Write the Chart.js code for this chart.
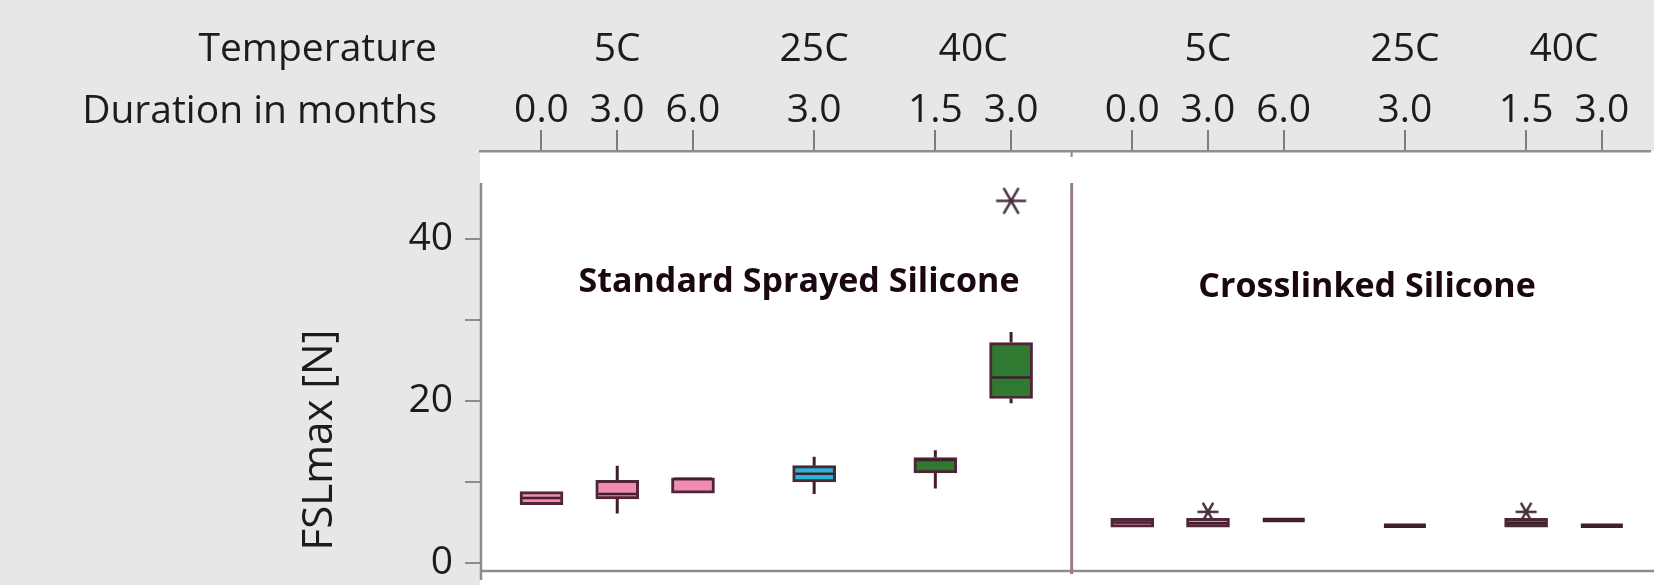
<!DOCTYPE html>
<html lang="en">
<head>
<meta charset="UTF-8">
<title>FSLmax by temperature and storage duration</title>
<script src="https://cdn.jsdelivr.net/npm/chart.js"></script>
<style>
  body { margin: 0; background: #e6e7e9; }
  #wrap { width: 1654px; height: 585px; }
</style>
</head>
<body>
<div id="wrap"><canvas id="chart"></canvas></div>
<script>
// two coatings, each split by storage temperature and duration
var panels = ['Standard Sprayed Silicone', 'Crosslinked Silicone'];
var temperatures = ['5C', '5C', '5C', '25C', '40C', '40C'];
var durations = ['0.0', '3.0', '6.0', '3.0', '1.5', '3.0'];
var yTicks = [0, 10, 20, 30, 40];

// box stats: first six = standard sprayed, last six = crosslinked
var boxMin    = [7.2, 6.1, 8.6, 8.5, 9.2, 19.7,   4.4, 4.4, 5.3, 4.6, 4.4, 4.6];
var boxQ1     = [7.2, 7.9, 8.6, 10.0, 11.1, 20.3, 4.4, 4.4, 5.3, 4.6, 4.4, 4.6];
var boxMedian = [8.0, 8.5, 10.4, 11.0, 12.7, 22.9, 5.0, 4.9, 5.3, 4.6, 4.9, 4.6];
var boxQ3     = [8.8, 10.2, 10.5, 12.0, 13.0, 27.2, 5.5, 5.5, 5.3, 4.6, 5.5, 4.6];
var boxMax    = [8.8, 12.0, 10.5, 13.1, 13.9, 28.5, 5.5, 5.5, 5.3, 4.6, 5.5, 4.6];

// outliers (index of box, value)
var outlierBox = [5, 7, 10];
var outlierValue = [44.7, 6.3, 6.3];

var FONT = '"Open Sans", "DejaVu Sans", sans-serif';
var INK = '#1c1c1c';
var tempColor = { '5C': '#f28cb3', '25C': '#24b6d6', '40C': '#2f7a30' };
var tempGap = { '5C': 0, '25C': 0.6, '40C': 1.2 };

// slot positions on the x scale (groups a little apart, panels further apart)
var slotPos = [], slotTemp = [], slotDur = [], slotPanel = [];
panels.forEach(function(p, pi) {
  temperatures.forEach(function(t, i) {
    slotPos.push(pi * 7.8 + i + tempGap[t]);
    slotTemp.push(t);
    slotDur.push(durations[i]);
    slotPanel.push(pi);
  });
});

function asterisk(size) {
  var c = document.createElement('canvas');
  c.width = c.height = size;
  var g = c.getContext('2d');
  var m = size / 2, r = size / 2 - 1.5, a = Math.PI / 3;
  g.strokeStyle = '#4b2f3e';
  g.lineWidth = 2.5;
  g.beginPath();
  g.moveTo(m - r, m); g.lineTo(m + r, m);
  [a, Math.PI - a].forEach(function(k) {
    g.moveTo(m + r * Math.cos(k), m - r * Math.sin(k));
    g.lineTo(m - r * Math.cos(k), m + r * Math.sin(k));
  });
  g.stroke();
  return c;
}

var boxPlugin = {
  id: 'boxPlugin',
  beforeDraw: function(chart) {
    var ctx = chart.ctx, a = chart.chartArea;
    ctx.save();
    ctx.fillStyle = '#e6e7e9';
    ctx.fillRect(0, 0, chart.width, chart.height);
    ctx.fillStyle = '#ffffff';
    ctx.fillRect(a.left, a.top, chart.width - a.left, chart.height - a.top);
    ctx.restore();
  },
  afterDatasetsDraw: function(chart) {
    var ctx = chart.ctx, x = chart.scales.x, y = chart.scales.y;
    var half = 21;
    ctx.save();
    ctx.strokeStyle = '#3f1f2e';
    slotPos.forEach(function(v, i) {
      var px = x.getPixelForValue(v);
      ctx.lineWidth = 3;
      ctx.beginPath();
      if (boxMax[i] > boxQ3[i]) {
        ctx.moveTo(px, y.getPixelForValue(boxQ3[i]));
        ctx.lineTo(px, y.getPixelForValue(boxMax[i]));
      }
      if (boxMin[i] < boxQ1[i]) {
        ctx.moveTo(px, y.getPixelForValue(boxQ1[i]));
        ctx.lineTo(px, y.getPixelForValue(boxMin[i]));
      }
      ctx.stroke();
      var flat = boxQ1[i] === boxQ3[i];
      ctx.lineWidth = flat ? 4.5 : 2.5;
      var my = y.getPixelForValue(boxMedian[i]);
      ctx.beginPath();
      ctx.moveTo(px - half + (flat ? 0 : 2), my);
      ctx.lineTo(px + half - (flat ? 0 : 2), my);
      ctx.stroke();
    });
    ctx.restore();
  },
  afterDraw: function(chart) {
    var ctx = chart.ctx, a = chart.chartArea, x = chart.scales.x, y = chart.scales.y;
    var frameTop = a.top + 32;
    ctx.save();
    ctx.strokeStyle = '#8d8d8d';
    ctx.lineWidth = 2.5;
    ctx.beginPath();
    ctx.moveTo(a.left + 1, frameTop); ctx.lineTo(a.left + 1, chart.height - 5);
    ctx.moveTo(a.left, a.bottom); ctx.lineTo(chart.width, a.bottom);
    ctx.stroke();

    // panel divider
    var dx = x.getPixelForValue((slotPos[5] + slotPos[6]) / 2);
    ctx.strokeStyle = '#9b7c8a';
    ctx.lineWidth = 3;
    ctx.beginPath();
    ctx.moveTo(dx, frameTop); ctx.lineTo(dx, a.bottom + 3);
    ctx.stroke();
    ctx.strokeStyle = '#8d8d8d';
    ctx.lineWidth = 2;
    ctx.beginPath();
    ctx.moveTo(dx, a.top); ctx.lineTo(dx, a.top + 6);
    ctx.stroke();

    // header rows
    ctx.fillStyle = INK;
    ctx.font = '500 39px ' + FONT;
    ctx.textBaseline = 'middle';
    ctx.textAlign = 'right';
    ctx.fillText('Temperature', 437, 50);
    ctx.fillText('Duration in months', 437, 112);

    // temperature labels centred over their duration ticks
    ctx.textAlign = 'center';
    panels.forEach(function(p, pi) {
      ['5C', '25C', '40C'].forEach(function(t) {
        var xs = slotPos.filter(function(v, i) { return slotPanel[i] === pi && slotTemp[i] === t; });
        var mid = xs.reduce(function(s, v) { return s + v; }, 0) / xs.length;
        ctx.fillText(t, x.getPixelForValue(mid), 50);
      });
    });

    // y title
    ctx.save();
    ctx.font = '500 42px ' + FONT;
    ctx.translate(320, 440);
    ctx.rotate(-Math.PI / 2);
    ctx.fillText('FSLmax [N]', 0, 0);
    ctx.restore();

    // panel names
    ctx.fillStyle = '#1a0712';
    ctx.font = 'bold 34px ' + FONT;
    ctx.textBaseline = 'alphabetic';
    ctx.fillText(panels[0], x.getPixelForValue(3.4), y.getPixelForValue(33.4));
    ctx.fillText(panels[1], x.getPixelForValue(10.9), y.getPixelForValue(32.8));
    ctx.restore();
  }
};

new Chart(document.getElementById('chart'), {
  data: {
    datasets: [{
      type: 'bar',
      data: slotPos.map(function(v, i) { return { x: v, y: [boxQ1[i], boxQ3[i]] }; }),
      backgroundColor: slotTemp.map(function(t) { return tempColor[t]; }),
      borderColor: '#4d2637',
      borderWidth: 3,
      borderSkipped: false,
      barThickness: 43
    }, {
      type: 'scatter',
      data: outlierBox.map(function(b, i) { return { x: slotPos[b], y: outlierValue[i] }; }),
      pointStyle: outlierBox.map(function(b) { return asterisk(slotPanel[b] === 0 ? 33 : 24); }),
      borderWidth: 0
    }]
  },
  options: {
    responsive: true,
    maintainAspectRatio: false,
    animation: false,
    layout: { padding: { top: 0, left: 0, right: 0, bottom: 14 } },
    plugins: { legend: { display: false }, tooltip: { enabled: false } },
    scales: {
      x: {
        type: 'linear',
        position: 'top',
        offset: false,
        min: -0.812,
        max: 14.636,
        afterFit: function(s) {
          s.height = 151;
          s.paddingLeft = 0; s.paddingRight = 0;
        },
        afterBuildTicks: function(s) { s.ticks = slotPos.map(function(v) { return { value: v }; }); },
        grid: { offset: false, drawOnChartArea: false, tickLength: 21, color: '#7d7d7d', lineWidth: 2 },
        border: { color: '#8d8d8d', width: 2.5 },
        ticks: {
          autoSkip: false, maxRotation: 0, padding: 0, color: INK,
          font: { family: FONT, size: 39, weight: '500', lineHeight: 1 },
          callback: function(v, i) { return slotDur[i]; }
        }
      },
      y: {
        type: 'linear',
        min: -1,
        max: 50.85,
        afterFit: function(s) {
          s.width = 480;
          s.paddingTop = 0; s.paddingBottom = 0;
        },
        afterBuildTicks: function(s) { s.ticks = yTicks.map(function(v) { return { value: v }; }); },
        grid: { drawOnChartArea: false, tickLength: 15, color: '#8d8d8d', lineWidth: 2 },
        border: { display: false },
        ticks: {
          padding: 12, color: INK,
          font: { family: FONT, size: 39, weight: '500' },
          callback: function(v) { return v % 20 === 0 ? String(v) : ''; }
        }
      }
    }
  },
  plugins: [boxPlugin]
});
</script>
</body>
</html>
